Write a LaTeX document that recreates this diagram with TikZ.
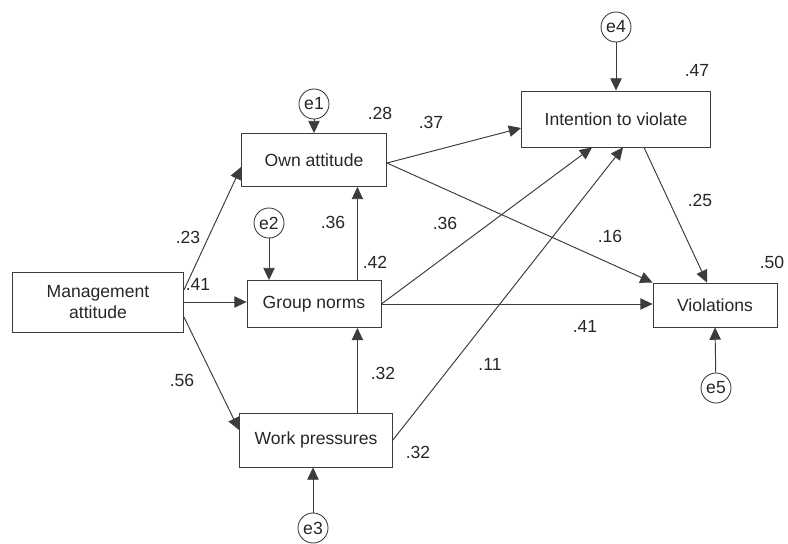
\documentclass[tikz,border=0pt]{standalone}
\usepackage{fontspec}
\setmainfont{Liberation Sans}
\usetikzlibrary{shapes,arrows.meta,positioning,calc}
\definecolor{line}{RGB}{60,60,60}

\begin{document}
\begin{tikzpicture}[x=0.02cm, y=-0.02cm, every node/.style={font=\fontsize{10}{12}\selectfont, text=black!85},
  var/.style={draw=line, rectangle, line width=0.5pt, inner sep=0pt, align=center},
  err/.style={draw=line, circle, line width=0.5pt, inner sep=0pt, minimum size=0.6cm},
  path/.style={draw=line, line width=0.55pt, -{Triangle[length=7pt,width=6.5pt]}}]
\useasboundingbox (0,0) rectangle (788,544);
% variables
\node[var, minimum width=3.42cm, minimum height=1.2cm] (mgmt) at (98,302) {Management\\attitude};
\node[var, minimum width=2.9cm, minimum height=1.06cm] (own) at (314,160) {Own attitude};
\node[var, minimum width=2.68cm, minimum height=0.94cm] (norms) at (314,304) {Group norms};
\node[var, minimum width=3.06cm, minimum height=1.08cm] (press) at (316,440) {Work pressures};
\node[var, minimum width=3.78cm, minimum height=1.12cm] (intent) at (616,119) {Intention to violate};
\node[var, minimum width=2.48cm, minimum height=0.88cm] (viol) at (715,305) {Violations};
% error terms
\node[err] (e1) at (314,104) {e1};
\node[err] (e2) at (269,223) {e2};
\node[err] (e3) at (313,528) {e3};
\node[err] (e4) at (616,27) {e4};
\node[err] (e5) at (716,388) {e5};
\coordinate (up) at ($(norms.north east)+(-24,0)$);
% paths
\draw[path] ($(mgmt.east)+(0,-12)$) -- ($(own.west)+(0,7)$);
\draw[path] (mgmt.east) -- (mgmt.east -| norms.west);
\draw[path] ($(mgmt.east)+(0,15)$) -- ($(press.west)+(0,-10)$);
\draw[path] (norms.north -| up) -- (own.south -| up);
\draw[path] (press.north -| up) -- (norms.south -| up);
\draw[path] ($(own.east)+(0,3)$) -- ($(intent.west)+(0,9)$);
\draw[path] ($(own.east)+(0,3)$) -- (viol.north west);
\draw[path] (norms.east) -- ($(intent.south)+(-24,0)$);
\draw[path] (norms.east) -- (norms.east -| viol.west);
\draw[path] (press.east) -- ($(intent.south)+(7,0)$);
\draw[path] ($(intent.south)+(28,0)$) -- ($(viol.north)+(-8,0)$);
\draw[path] (e1) -- (own.north);
\draw[path] (e2) -- (e2 |- norms.north);
\draw[path] (e3) -- (e3 |- press.south);
\draw[path] (e4) -- (intent.north);
\draw[path] (e5) -- (viol.south);
% estimates
\node (c23) at (188,237) {.23};
\node (c41a) at (198,284) {.41};
\node (c56) at (182,380) {.56};
\node (r28) at (380,113) {.28};
\node (c37) at (431,122) {.37};
\node (c36a) at (333,222) {.36};
\node (c42) at (375,262) {.42};
\node (c36b) at (445,223) {.36};
\node (c16) at (610,236) {.16};
\node (c41b) at (585,326) {.41};
\node (c11) at (490,364) {.11};
\node (c32a) at (383,373) {.32};
\node (c32b) at (418,452) {.32};
\node (r47) at (697,70) {.47};
\node (c25) at (700,200) {.25};
\node (r50) at (772,262) {.50};
\end{tikzpicture}
\end{document}
